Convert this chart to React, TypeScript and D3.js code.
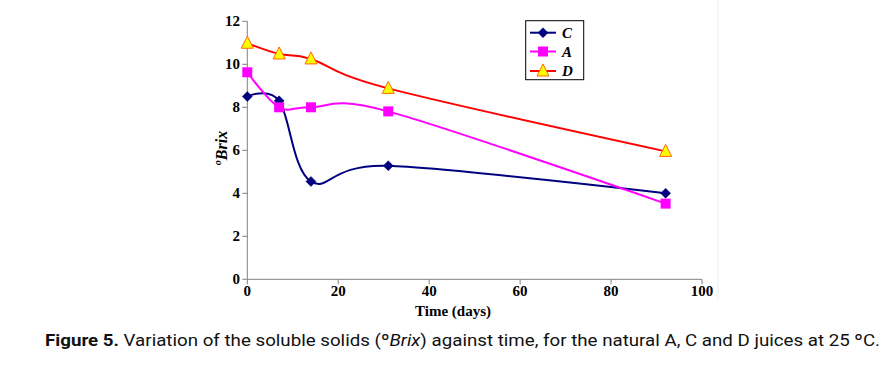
import React from "react";
import * as d3 from "d3";

const days = [0, 7, 14, 31, 92];
const seriesNames = ["C", "A", "D"];
const valuesC = [8.5, 8.3, 4.55, 5.28, 4.0];
const valuesA = [9.63, 8.0, 8.0, 7.81, 3.52];
const valuesD = [10.98, 10.48, 10.25, 8.88, 5.95];
const xTicks = [0, 20, 40, 60, 80, 100];
const yTicks = [0, 2, 4, 6, 8, 10, 12];

const W = 893, H = 367;
const x = d3.scaleLinear().domain([0, 100]).range([247.3, 702]);
const y = d3.scaleLinear().domain([0, 12]).range([279.3, 21.3]);

const styles: Record<string, { stroke: string; fill: string; mstroke: string }> = {
  C: { stroke: "#000080", fill: "#000080", mstroke: "#000080" },
  A: { stroke: "#FF00FF", fill: "#FF00FF", mstroke: "#FF00FF" },
  D: { stroke: "#FF0000", fill: "#FFFF00", mstroke: "#FF6600" },
};

const line = d3
  .line<[number, number]>()
  .x((d) => x(d[0]))
  .y((d) => y(d[1]))
  .curve(d3.curveCatmullRom.alpha(0));

function Marker({ name, cx, cy }: { name: string; cx: number; cy: number }) {
  const s = styles[name];
  if (name === "C") {
    const r = 5;
    return (
      <path
        d={`M${cx},${cy - r}L${cx + r},${cy}L${cx},${cy + r}L${cx - r},${cy}Z`}
        fill={s.fill}
        stroke={s.mstroke}
        strokeWidth={0.5}
      />
    );
  }
  if (name === "A") {
    const r = 5;
    return <rect x={cx - r} y={cy - r} width={2 * r} height={2 * r} fill={s.fill} />;
  }
  const r = 6;
  return (
    <path
      d={`M${cx},${cy - r - 1}L${cx + r},${cy + r - 1}L${cx - r},${cy + r - 1}Z`}
      fill={s.fill}
      stroke={s.mstroke}
      strokeWidth={1}
    />
  );
}

export default function App() {
  const data: Record<string, number[]> = { C: valuesC, A: valuesA, D: valuesD };
  const tf = "'Liberation Serif', 'Times New Roman', serif";
  const legendY = [32.7, 51.5, 71];
  return (
    <svg
      width={W}
      height={H}
      style={{ position: "absolute", left: 0, top: 0, background: "#fff" }}
    >
      <rect x={0} y={0} width={W} height={H} fill="#fff" />
      <line x1={718} x2={718} y1={0} y2={300} stroke="#eeeeee" strokeWidth={1} />
      {/* axes */}
      <line x1={x(0)} x2={x(0)} y1={y(12)} y2={y(0)} stroke="#808080" strokeWidth={1} />
      <line x1={x(0)} x2={x(100)} y1={y(0)} y2={y(0)} stroke="#808080" strokeWidth={1} />
      {yTicks.map((t) => (
        <g key={"y" + t}>
          <line x1={x(0) - 5} x2={x(0)} y1={y(t)} y2={y(t)} stroke="#808080" />
          <text
            x={240}
            y={y(t) + 5}
            textAnchor="end"
            fontFamily={tf}
            fontWeight="bold"
            fontSize={15}
          >
            {t}
          </text>
        </g>
      ))}
      {xTicks.map((t) => (
        <g key={"x" + t}>
          <line x1={x(t)} x2={x(t)} y1={y(0)} y2={y(0) + 5} stroke="#808080" />
          <text
            x={x(t)}
            y={296}
            textAnchor="middle"
            fontFamily={tf}
            fontWeight="bold"
            fontSize={15}
          >
            {t}
          </text>
        </g>
      ))}
      <text x={453} y={316} textAnchor="middle" fontFamily={tf} fontWeight="bold" fontSize={15}>
        Time (days)
      </text>
      <text
        transform={`translate(227,148) rotate(-90)`}
        textAnchor="middle"
        fontFamily={tf}
        fontWeight="bold"
        fontStyle="italic"
        fontSize={16}
      >
        <tspan fontSize={10} dy={-6}>o</tspan>
        <tspan dy={6}>Brix</tspan>
      </text>
      {/* series */}
      {seriesNames.map((n) => {
        const pts = days.map((d, i) => [d, data[n][i]] as [number, number]);
        return (
          <g key={n}>
            <path d={line(pts) || ""} fill="none" stroke={styles[n].stroke} strokeWidth={2} />
            {pts.map((p, i) => (
              <Marker key={i} name={n} cx={x(p[0])} cy={y(p[1])} />
            ))}
          </g>
        );
      })}
      {/* legend */}
      <rect x={525.7} y={20.7} width={58} height={59} fill="#fff" stroke="#000" strokeWidth={1} />
      {seriesNames.map((n, i) => (
        <g key={"l" + n}>
          <line x1={530} x2={556} y1={legendY[i]} y2={legendY[i]} stroke={styles[n].stroke} strokeWidth={2} />
          <Marker name={n} cx={543} cy={legendY[i]} />
          <text
            x={562}
            y={legendY[i] + 5}
            fontFamily={tf}
            fontWeight="bold"
            fontStyle="italic"
            fontSize={15}
          >
            {n}
          </text>
        </g>
      ))}
      {/* caption */}
      <text
        x={45}
        y={346}
        fontFamily="'Liberation Sans Narrow', 'Roboto', sans-serif"
        fontSize={17}
        textLength={835}
        lengthAdjust="spacingAndGlyphs"
        fill="#111"
      >
        <tspan fontWeight="bold">Figure 5.</tspan>
        <tspan> Variation of the soluble solids (º</tspan>
        <tspan fontStyle="italic">Brix</tspan>
        <tspan>) against time, for the natural A, C and D juices at 25 ºC.</tspan>
      </text>
    </svg>
  );
}
